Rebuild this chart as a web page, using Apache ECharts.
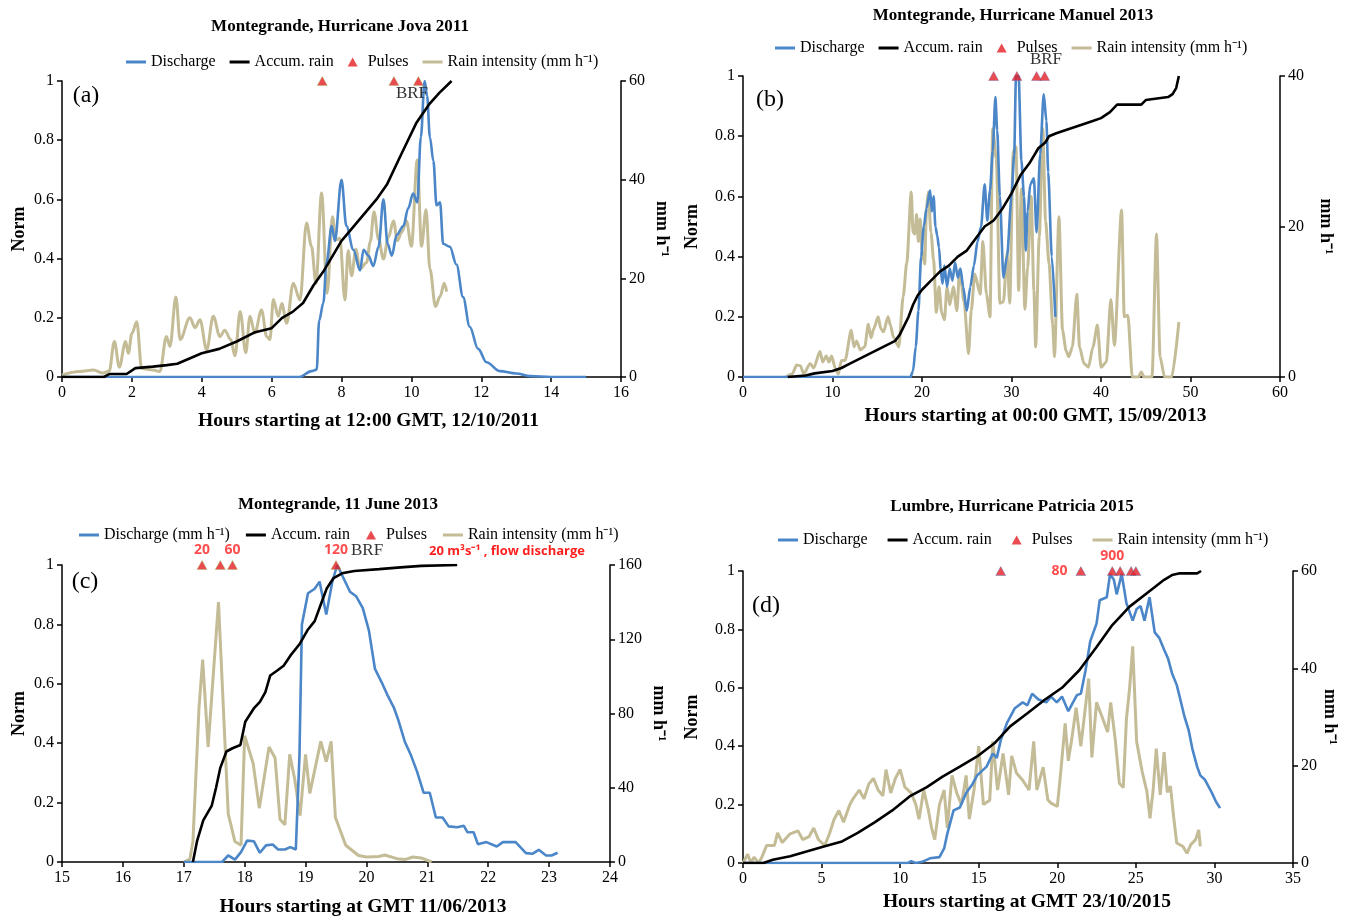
<!DOCTYPE html>
<html>
<head>
<meta charset="utf-8">
<title>Montegrande and Lumbre flood pulses</title>
<script src="https://cdn.jsdelivr.net/npm/echarts@6/dist/echarts.min.js"></script>
<style>
html, body { margin: 0; padding: 0; background: #fff; }
#chart { width: 1346px; height: 918px; }
</style>
</head>
<body>
<div id="chart"></div>
<script>
// ---- (a) Montegrande, Hurricane Jova 2011 ----
var jovaDischarge = [[0,0],[6.8,0],[7.14,0.02],[7.29,0.025],[7.36,0.19],[7.48,0.25],[7.57,0.385],[7.72,0.51],[7.81,0.46],[8.0,0.666],[8.14,0.51],[8.34,0.43],[8.53,0.36],[8.63,0.43],[8.77,0.41],[8.91,0.375],[9.06,0.44],[9.2,0.6],[9.32,0.45],[9.44,0.41],[9.58,0.48],[9.77,0.51],[9.91,0.57],[10.05,0.62],[10.17,0.59],[10.27,0.81],[10.38,1.0],[10.45,0.95],[10.53,0.81],[10.63,0.73],[10.72,0.58],[10.82,0.59],[10.91,0.45],[11.1,0.44],[11.29,0.38],[11.48,0.27],[11.67,0.17],[11.91,0.095],[12.15,0.05],[12.53,0.02],[13.0,0.012],[13.4,0.003],[14.0,0],[15.0,0]];
var jovaAccum = [[0,0],[1.2,0],[1.35,0.01],[1.85,0.01],[2.1,0.03],[2.6,0.035],[3.0,0.04],[3.3,0.045],[3.6,0.06],[4.0,0.08],[4.5,0.095],[5.0,0.12],[5.5,0.15],[6.0,0.165],[6.3,0.2],[6.6,0.22],[6.9,0.25],[7.2,0.31],[7.5,0.36],[8.0,0.46],[8.5,0.53],[9.0,0.6],[9.3,0.65],[9.7,0.75],[10.15,0.86],[10.5,0.92],[10.8,0.96],[11.15,1.0]];
var jovaRain = [[0,0.4],[0.5,1.1],[0.9,1.4],[1.18,0.8],[1.35,1.2],[1.5,7.2],[1.64,2],[1.82,7.2],[1.9,4.8],[2.0,8.8],[2.14,11.2],[2.28,1.7],[2.61,1.4],[2.8,1.1],[2.99,8.2],[3.09,6.2],[3.26,16.2],[3.38,7.6],[3.66,12],[3.81,10],[3.95,11.6],[4.14,5.5],[4.33,12.3],[4.52,8.2],[4.66,9.5],[4.83,7.6],[4.95,4.3],[5.1,13.3],[5.26,4.9],[5.38,12.3],[5.52,8.9],[5.71,13.6],[5.86,8.2],[5.95,7.6],[6.05,15.7],[6.19,12.3],[6.29,14.9],[6.43,10.9],[6.62,19],[6.81,15.6],[7.0,31.2],[7.14,26.5],[7.27,19],[7.43,37.3],[7.59,17],[7.74,32.5],[7.84,27.8],[7.95,28.1],[8.1,15.6],[8.19,25.6],[8.29,20.5],[8.41,25.9],[8.53,21.9],[8.72,23.2],[8.82,27.3],[8.93,33.5],[9.06,27.9],[9.2,23.9],[9.34,28.3],[9.49,31.6],[9.6,27.6],[9.72,29.3],[9.86,31.6],[10.0,26.5],[10.17,44],[10.29,26.5],[10.42,33.9],[10.53,21.9],[10.69,14.3],[10.82,16.3],[10.94,19],[11.01,17.3]];
var jovaPulses = [7.45, 9.5, 10.2];

// ---- (b) Montegrande, Hurricane Manuel 2013 ----
var manuelDischarge = [[0,0],[18.7,0],[19.0,0.02],[19.3,0.1],[19.6,0.22],[19.9,0.4],[20.2,0.5],[20.5,0.56],[20.9,0.62],[21.1,0.55],[21.3,0.6],[21.5,0.5],[21.7,0.47],[21.9,0.43],[22.1,0.35],[22.3,0.31],[22.5,0.37],[22.8,0.3],[23.1,0.36],[23.4,0.32],[23.7,0.38],[24.0,0.33],[24.3,0.36],[24.6,0.3],[25.0,0.22],[25.4,0.3],[25.8,0.37],[26.2,0.45],[26.6,0.5],[27.0,0.64],[27.3,0.52],[27.6,0.62],[27.9,0.75],[28.2,0.93],[28.4,0.82],[28.7,0.6],[29.1,0.33],[29.5,0.4],[30.0,0.6],[30.3,0.74],[30.5,1.0],[30.8,1.0],[31.1,0.72],[31.4,0.6],[31.6,0.42],[31.8,0.55],[32.1,0.64],[32.5,0.66],[32.8,0.48],[33.2,0.74],[33.6,0.94],[33.9,0.85],[34.1,0.68],[34.5,0.4],[34.9,0.2]];
var manuelAccum = [[5,0],[7,0.005],[8,0.012],[10,0.02],[11,0.03],[12,0.045],[13,0.06],[14,0.075],[15,0.09],[16,0.105],[17,0.12],[17.5,0.14],[18,0.17],[18.5,0.2],[19,0.24],[19.5,0.27],[20,0.29],[21,0.32],[22,0.35],[23,0.37],[24,0.4],[25,0.42],[26,0.46],[27,0.5],[28,0.52],[29,0.56],[30,0.61],[31,0.67],[32,0.71],[33,0.76],[33.8,0.78],[34.2,0.8],[35,0.81],[36,0.82],[37,0.83],[38,0.84],[39,0.85],[40,0.86],[41,0.88],[41.8,0.905],[44.5,0.905],[45,0.92],[47.5,0.93],[48,0.94],[48.4,0.96],[48.7,1.0]];
var manuelRain = [[4.8,0],[5.5,0.4],[6.0,1.6],[6.4,1.5],[6.8,0.4],[7.5,1.8],[7.9,1.2],[8.6,3.4],[8.9,2],[9.3,2.8],[9.6,2],[9.9,2.8],[10.3,1.2],[10.65,0.4],[11.0,2.2],[11.4,2.2],[12.1,6.2],[12.4,4],[12.7,4.8],[13.1,3.6],[13.6,4],[14.0,7],[14.3,5.2],[14.6,6.4],[15.1,8],[15.4,6.4],[15.7,6],[16.2,8],[16.5,6.8],[16.8,5.3],[17.4,4],[17.9,10.7],[18.3,15.2],[18.8,24.6],[19.0,19.2],[19.2,19],[19.4,21.6],[19.6,18],[19.8,21],[20.0,16.8],[20.3,15],[20.5,22.4],[20.7,24.6],[21.0,19.2],[21.3,15.5],[21.6,8.6],[21.9,12],[22.2,8.5],[22.5,7.6],[22.8,12],[23.1,9.6],[23.5,12],[23.9,8.8],[24.2,14.3],[24.7,10],[25.2,3.1],[25.5,8.8],[25.9,13.7],[26.5,11],[26.8,18],[27.2,11],[27.6,8],[27.9,33],[28.3,29],[28.7,9.8],[29.1,10],[29.5,16.5],[29.8,9.8],[30.2,30],[30.5,30.6],[30.8,11.5],[31.1,25],[31.5,9],[31.8,14.6],[32.2,24],[32.5,11.5],[32.7,4],[33.1,18.6],[33.5,33],[33.8,20.8],[34.2,15],[34.6,7],[34.8,2.7],[35.3,21.3],[35.7,6.2],[36.1,3.5],[36.4,2.7],[36.8,4],[37.3,11],[37.6,4],[38.1,1.8],[38.6,1.3],[39.1,4],[39.6,6.9],[40.0,1.3],[40.6,2],[41.1,10.3],[41.5,4.2],[42.3,22.2],[42.6,8],[43.0,8.2],[43.5,0],[44.2,0],[44.5,0.7],[44.8,0],[45.7,0],[46.2,19],[46.6,2.7],[47.1,0],[47.9,0],[48.7,7.3]];
var manuelPulses = [28.0, 30.6, 32.8, 33.7];

// ---- (c) Montegrande, 11 June 2013 ----
var juneDischarge = [[17.0,0],[17.63,0],[17.73,0.022],[17.84,0.008],[17.94,0.033],[18.04,0.072],[18.15,0.07],[18.25,0.031],[18.35,0.056],[18.46,0.059],[18.55,0.042],[18.66,0.042],[18.75,0.05],[18.84,0.042],[18.9,0.36],[18.94,0.8],[19.04,0.905],[19.15,0.92],[19.23,0.944],[19.34,0.833],[19.44,0.944],[19.52,1.0],[19.73,0.91],[19.83,0.895],[19.94,0.855],[20.04,0.78],[20.14,0.65],[20.25,0.605],[20.35,0.56],[20.45,0.52],[20.52,0.48],[20.63,0.405],[20.73,0.36],[20.83,0.305],[20.94,0.233],[21.04,0.233],[21.14,0.15],[21.25,0.15],[21.35,0.12],[21.49,0.117],[21.6,0.122],[21.66,0.1],[21.76,0.1],[21.83,0.06],[21.97,0.067],[22.14,0.052],[22.24,0.067],[22.45,0.067],[22.62,0.03],[22.73,0.028],[22.83,0.041],[22.95,0.022],[23.04,0.022],[23.14,0.031]];
var juneAccum = [[17.15,0],[17.22,0.072],[17.32,0.14],[17.46,0.19],[17.53,0.25],[17.6,0.317],[17.7,0.372],[17.8,0.383],[17.93,0.394],[18.01,0.472],[18.15,0.517],[18.25,0.539],[18.34,0.572],[18.42,0.628],[18.53,0.644],[18.64,0.661],[18.77,0.7],[18.9,0.733],[19.04,0.783],[19.15,0.811],[19.25,0.867],[19.35,0.922],[19.46,0.956],[19.6,0.972],[19.8,0.98],[20.21,0.986],[20.56,0.992],[20.9,0.997],[21.49,1.0]];
var juneRain = [[17.0,0],[17.1,1.6],[17.15,11],[17.25,83],[17.31,109],[17.4,62],[17.57,140],[17.73,26],[17.84,11],[17.94,9],[18.0,68],[18.14,53],[18.24,29],[18.4,62],[18.5,56],[18.58,23],[18.66,20],[18.74,58],[18.82,45],[18.91,25],[19.0,58],[19.07,37],[19.25,65],[19.34,54],[19.42,65],[19.49,24],[19.66,9],[19.87,3.5],[20.0,2.7],[20.2,3],[20.3,3.8],[20.5,1.8],[20.63,1.3],[20.76,2.7],[20.9,2.2],[21.07,0]];
var junePulses = [17.3, 17.6, 17.8, 19.5];
var junePulseLabels = ['20', '', '60', '120'];

// ---- (d) Lumbre, Hurricane Patricia 2015 ----
var patriciaDischarge = [[0,0],[10.5,0],[10.7,0.006],[11.0,0],[11.4,0.004],[11.9,0.016],[12.5,0.02],[12.8,0.05],[13.0,0.1],[13.4,0.18],[13.8,0.19],[14.2,0.24],[14.6,0.27],[14.9,0.3],[15.5,0.33],[15.9,0.375],[16.15,0.36],[16.4,0.42],[16.8,0.48],[17.3,0.53],[17.8,0.55],[18.1,0.54],[18.4,0.58],[18.8,0.56],[19.3,0.55],[19.6,0.57],[19.97,0.55],[20.3,0.57],[20.7,0.52],[21.25,0.575],[21.5,0.58],[21.8,0.66],[22.1,0.76],[22.5,0.82],[22.7,0.9],[23.15,0.91],[23.36,0.99],[23.6,0.97],[23.78,0.92],[24.1,0.99],[24.4,0.89],[24.8,0.83],[25.05,0.87],[25.3,0.88],[25.55,0.83],[25.87,0.91],[26.2,0.79],[26.5,0.77],[26.8,0.73],[27.05,0.7],[27.3,0.65],[27.6,0.61],[27.83,0.56],[28.1,0.5],[28.36,0.455],[28.6,0.39],[28.9,0.33],[29.1,0.3],[29.4,0.285],[29.84,0.24],[30.1,0.21],[30.36,0.188]];
var patriciaAccum = [[0,0],[1.3,0],[1.9,0.011],[3.0,0.023],[4.1,0.04],[5.2,0.057],[6.3,0.074],[7.3,0.103],[8.4,0.14],[9.5,0.18],[10.6,0.228],[11.7,0.26],[12.7,0.296],[13.8,0.33],[14.9,0.365],[16.0,0.41],[17.0,0.468],[18.1,0.513],[19.2,0.559],[20.3,0.6],[21.4,0.66],[22.5,0.74],[23.5,0.815],[24.6,0.878],[25.7,0.924],[26.8,0.97],[27.3,0.986],[27.8,0.992],[28.9,0.992],[29.15,1.0]];
var patriciaRain = [[0,0],[0.3,1.8],[0.5,0],[0.7,1.2],[1.0,0],[1.2,1.2],[1.5,3.6],[2.0,3.6],[2.2,6.2],[2.5,4.2],[3.0,6],[3.5,6.6],[3.8,4.8],[4.2,5.4],[4.5,7.2],[4.8,4.8],[5.2,3.6],[5.5,6],[5.8,9],[6.1,10.8],[6.4,8.4],[6.8,12],[7.0,13.2],[7.4,15],[7.7,13.2],[8.0,16.2],[8.3,17.4],[8.6,15],[8.9,13.8],[9.1,19.2],[9.4,14.4],[9.7,17.4],[10.0,19.2],[10.3,15.6],[10.7,14.4],[11.0,12],[11.2,9],[11.5,15],[11.8,10.8],[12.0,7.2],[12.2,4.8],[12.5,12],[12.8,15],[13.0,7.2],[13.3,18],[13.6,14.4],[13.9,12],[14.2,18],[14.4,9],[14.7,15],[15.0,24],[15.3,12],[15.7,12.9],[15.9,25],[16.2,15],[16.55,22.5],[16.9,14],[17.1,22],[17.4,18.5],[17.8,17],[18.2,15],[18.5,25],[18.7,15],[19.1,19.7],[19.4,13],[19.6,12.3],[20.0,11.6],[20.2,18],[20.5,28.7],[20.7,21],[20.9,25],[21.2,31.9],[21.5,24],[22.0,37.9],[22.2,21.7],[22.5,33],[22.9,29.6],[23.2,26.9],[23.4,33],[23.7,25],[23.95,16.4],[24.2,15.5],[24.4,29.6],[24.6,35.8],[24.8,44.5],[25.05,24.9],[25.4,18.8],[25.7,14.7],[25.9,9.2],[26.1,15],[26.3,23.5],[26.55,14],[26.8,22.8],[27.0,14.5],[27.2,15.8],[27.4,9.6],[27.6,4.1],[28.0,3.4],[28.25,2],[28.5,3.8],[28.8,4.8],[29.0,6.8],[29.1,3.4]];
var patriciaPulses = [16.4, 21.5, 23.5, 24.0, 24.7, 25.0];
var patriciaPulseLabels = ['', '80', '900', '', '', ''];

var SERIF = '"Liberation Serif", "Times New Roman", serif';
var BLUE = '#4a86c8', TAN = '#c4bc96', RED = '#e41e26', LABELRED = '#ff1f1f';
var RAIN = 'Rain intensity (mm h\u207b\u00b9)';
var LINE_ICON = 'path://M0,0H20V3H0Z';
var TRI_ICON = 'path://M5,0L10,9L0,9Z';

var panels = [
  { grid: { left: 62, top: 81, width: 559, height: 296 }, x: [0, 16, 2], right: [60, 20],
    xName: 'Hours starting at 12:00 GMT, 12/10/2011', dName: 'Discharge',
    discharge: jovaDischarge, accum: jovaAccum, rain: jovaRain, pulses: jovaPulses, labels: null,
    smooth: 0.35, border: '#9bbb59', legend: { left: 121, top: 49, gap: 14 },
    gaps: { x: 34, left: 34, right: 32 }, xShift: 27 },
  { grid: { left: 743, top: 76, width: 537, height: 301 }, x: [0, 60, 10], right: [40, 20],
    xName: 'Hours starting at 00:00 GMT, 15/09/2013', dName: 'Discharge',
    discharge: manuelDischarge, accum: manuelAccum, rain: manuelRain, pulses: manuelPulses, labels: null,
    smooth: 0.25, border: '#8064a2', legend: { left: 770, top: 35, gap: 14 },
    gaps: { x: 29, left: 42, right: 37 }, xShift: 24 },
  { grid: { left: 62, top: 565, width: 548, height: 300 }, x: [15, 24, 1], right: [160, 40],
    xName: 'Hours starting at GMT 11/06/2013', dName: 'Discharge (mm h\u207b\u00b9)',
    discharge: juneDischarge, accum: juneAccum, rain: juneRain, pulses: junePulses, labels: junePulseLabels,
    smooth: false, border: '#9bbb59', legend: { left: 74, top: 522, gap: 16 },
    gaps: { x: 35, left: 34, right: 40 }, xShift: 27 },
  { grid: { left: 743, top: 571, width: 550, height: 292 }, x: [0, 35, 5], right: [60, 20],
    xName: 'Hours starting at GMT 23/10/2015', dName: 'Discharge',
    discharge: patriciaDischarge, accum: patriciaAccum, rain: patriciaRain, pulses: patriciaPulses, labels: patriciaPulseLabels,
    smooth: false, border: '#4f81bd', legend: { left: 773, top: 527, gap: 20 },
    gaps: { x: 29, left: 42, right: 26 }, xShift: 9 }
];

function axisBase() {
  return {
    axisLine: { show: true, onZero: false, lineStyle: { color: '#000', width: 1.5 } },
    axisTick: { show: true, inside: false, length: 5, lineStyle: { color: '#000', width: 1.5 } },
    axisLabel: { color: '#000', fontFamily: SERIF, fontSize: 16, margin: 8 },
    splitLine: { show: false },
    nameTextStyle: { color: '#000', fontFamily: SERIF, fontWeight: 'bold', fontSize: 18 }
  };
}

var option = {
  animation: false,
  backgroundColor: '#fff',
  grid: [], xAxis: [], yAxis: [], series: [], legend: [], graphic: []
};

panels.forEach(function (p, i) {
  option.grid.push(Object.assign({ containLabel: false }, p.grid));

  var xa = Object.assign(axisBase(), {
    type: 'value', gridIndex: i, min: p.x[0], max: p.x[1], interval: p.x[2],
    name: p.xName, nameLocation: 'middle', nameGap: p.gaps.x
  });
  xa.nameTextStyle.fontSize = 19.5;
  xa.nameTextStyle.padding = [0, 0, 0, p.xShift * 2];
  option.xAxis.push(xa);
  option.yAxis.push(Object.assign(axisBase(), {
    type: 'value', gridIndex: i, position: 'left', min: 0, max: 1, interval: 0.2,
    name: 'Norm', nameLocation: 'middle', nameRotate: 90, nameGap: p.gaps.left
  }));
  option.yAxis.push(Object.assign(axisBase(), {
    type: 'value', gridIndex: i, position: 'right', min: 0, max: p.right[0], interval: p.right[1],
    name: 'mm h\u207b\u00b9', nameLocation: 'middle', nameRotate: -90, nameGap: p.gaps.right
  }));

  var yl = i * 2, yr = i * 2 + 1;
  option.series.push({
    name: RAIN, type: 'line', xAxisIndex: i, yAxisIndex: yr, data: p.rain,
    symbol: 'none', smooth: p.smooth, smoothMonotone: 'x',
    lineStyle: { color: TAN, width: 3 }, itemStyle: { color: TAN }, z: 2
  });
  option.series.push({
    name: p.dName, type: 'line', xAxisIndex: i, yAxisIndex: yl, data: p.discharge,
    symbol: 'none', smooth: p.smooth, smoothMonotone: 'x',
    lineStyle: { color: BLUE, width: 2.6 }, itemStyle: { color: BLUE }, z: 3
  });
  option.series.push({
    name: 'Accum. rain', type: 'line', xAxisIndex: i, yAxisIndex: yl, data: p.accum,
    symbol: 'none', lineStyle: { color: '#000', width: 2.6 }, itemStyle: { color: '#000' }, z: 4
  });
  option.series.push({
    name: 'Pulses', type: 'scatter', xAxisIndex: i, yAxisIndex: yl,
    symbol: 'triangle', symbolSize: [10, 9],
    itemStyle: { color: RED, borderColor: p.border, borderWidth: 0.5 }, z: 6,
    data: p.pulses.map(function (t, k) {
      var item = { value: [t, 1] };
      var txt = p.labels ? p.labels[k] : '';
      if (txt) {
        item.label = {
          show: true, formatter: txt, position: txt === '80' ? 'left' : 'top', distance: txt === '80' ? 8 : 3,
          color: LABELRED, fontFamily: '"Open Sans", "Liberation Sans", sans-serif', fontWeight: 'bold', fontSize: 14
        };
      }
      return item;
    })
  });

  option.legend.push({
    left: p.legend.left, top: p.legend.top, itemGap: p.legend.gap,
    itemWidth: 20, itemHeight: 9, symbolKeepAspect: true,
    textStyle: { color: '#000', fontFamily: SERIF, fontSize: 16 },
    data: [
      { name: p.dName, icon: LINE_ICON },
      { name: 'Accum. rain', icon: LINE_ICON },
      { name: 'Pulses', icon: TRI_ICON, itemStyle: { color: RED, borderWidth: 0 } },
      { name: RAIN, icon: LINE_ICON }
    ]
  });
});

function txt(x, y, s, font, color, align) {
  return { type: 'text', x: x, y: y, z: 10, style: { text: s, font: font, fill: color || '#000', align: align || 'center', verticalAlign: 'middle' } };
}
var TITLE = 'bold 17px ' + SERIF;
var LETTER = '24px ' + SERIF;
var BRF = '17px ' + SERIF;
option.graphic = [
  txt(340, 27, 'Montegrande, Hurricane Jova 2011', TITLE),
  txt(1013, 16, 'Montegrande, Hurricane Manuel 2013', TITLE),
  txt(338, 505, 'Montegrande, 11 June 2013', TITLE),
  txt(1012, 507, 'Lumbre, Hurricane Patricia 2015', TITLE),
  txt(86, 96, '(a)', LETTER),
  txt(770, 100, '(b)', LETTER),
  txt(85, 582, '(c)', LETTER),
  txt(766, 606, '(d)', LETTER),
  txt(412, 94, 'BRF', BRF, '#333'),
  txt(1046, 60, 'BRF', BRF, '#333'),
  txt(351, 551, 'BRF', BRF, '#333', 'left'),
  txt(429, 551, '20 m\u00b3s\u207b\u00b9 , flow discharge', 'bold 13px "Open Sans", "Liberation Sans", sans-serif', LABELRED, 'left')
];

var chart = echarts.init(document.getElementById('chart'), null, { renderer: 'canvas' });
chart.setOption(option);
</script>
</body>
</html>
